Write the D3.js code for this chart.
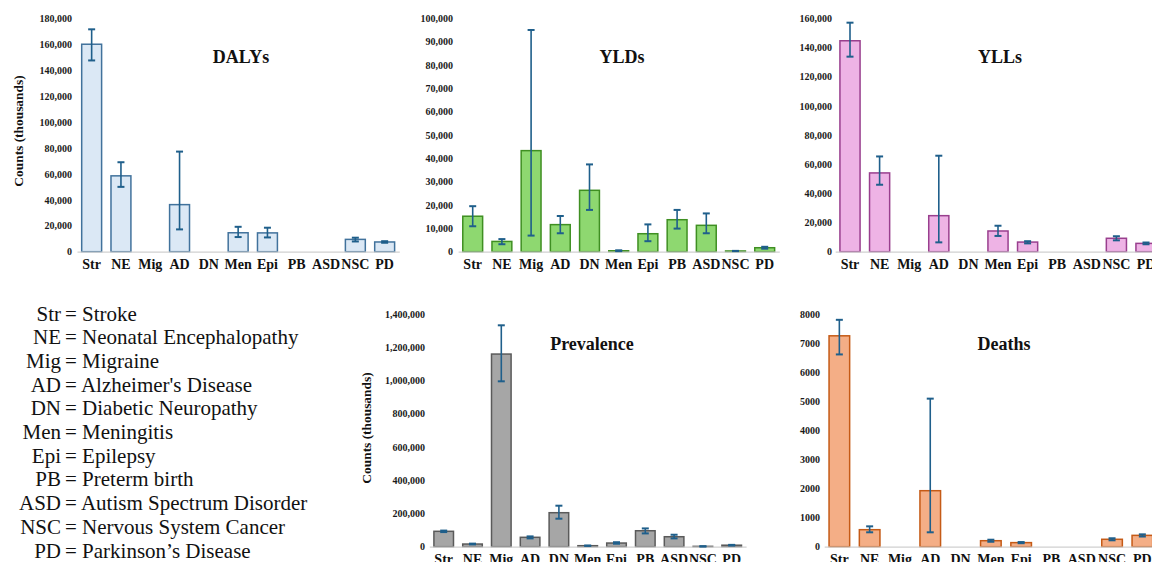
<!DOCTYPE html>
<html>
<head>
<meta charset="utf-8">
<script src="https://cdn.jsdelivr.net/npm/d3@7"></script>
<style>
  html, body { margin: 0; padding: 0; background: #ffffff; }
  svg text { font-family: "Liberation Serif", "Times New Roman", Tinos, Times, "DejaVu Serif", serif; }
</style>
</head>
<body>
<svg id="chart" width="1152" height="562"></svg>
<script>
// ---------------- DATA ----------------
const categories = ["Str", "NE", "Mig", "AD", "DN", "Men", "Epi", "PB", "ASD", "NSC", "PD"];

const dalys   = [160000, 58500, null, 36300, null, 14600, 14500, null, null, 9500, 7500];
const dalysLo = [147500, 50000, null, 17200, null, 11300, 11000, null, null, 7900, 6900];
const dalysHi = [171500, 69000, null, 77200, null, 19200, 18500, null, null, 10800, 8100];

const ylds   = [15200, 4400, 43300, 11600, 26300, 400, 7700, 13700, 11300, 300, 1700];
const yldsLo = [10900, 3200, 6900, 7900, 17900, 250, 4500, 9900, 7900, 250, 1300];
const yldsHi = [19500, 5400, 95000, 15300, 37400, 600, 11700, 17900, 16400, 350, 2100];

const ylls   = [144600, 54000, null, 24700, null, 14200, 6600, null, null, 9200, 5700];
const yllsLo = [133700, 45900, null, 6400, null, 10800, 5700, null, null, 7800, 5100];
const yllsHi = [157000, 65300, null, 65800, null, 17800, 7200, null, null, 10600, 6300];

const prevalence = [92600, 16000, 1159000, 56500, 204500, 6000, 22000, 96000, 60000, 2000, 9000];
const prevLo     = [88000, 14000, 995000, 50000, 168500, 5000, 18000, 80000, 50000, 1500, 7000];
const prevHi     = [97000, 18500, 1332000, 62000, 246700, 7000, 27000, 110000, 72000, 2500, 11000];

const deaths   = [7250, 585, null, 1925, null, 206, 140, null, null, 255, 390];
const deathsLo = [6610, 495, null, 495, null, 170, 120, null, null, 220, 350];
const deathsHi = [7800, 700, null, 5090, null, 240, 160, null, null, 290, 425];

const dalysTicks = [0, 20000, 40000, 60000, 80000, 100000, 120000, 140000, 160000, 180000];
const yldsTicks  = [0, 10000, 20000, 30000, 40000, 50000, 60000, 70000, 80000, 90000, 100000];
const yllsTicks  = [0, 20000, 40000, 60000, 80000, 100000, 120000, 140000, 160000];
const prevTicks  = [0, 200000, 400000, 600000, 800000, 1000000, 1200000, 1400000];
const deathsTicks = [0, 1000, 2000, 3000, 4000, 5000, 6000, 7000, 8000];

const legendAbbr  = ["Str", "NE", "Mig", "AD", "DN", "Men", "Epi", "PB", "ASD", "NSC", "PD"];
const legendNames = ["Stroke", "Neonatal Encephalopathy", "Migraine", "Alzheimer's Disease",
  "Diabetic Neuropathy", "Meningitis", "Epilepsy", "Preterm birth",
  "Autism Spectrum Disorder", "Nervous System Cancer", "Parkinson\u2019s Disease"];

const yTitle = "Counts (thousands)";

// ---------------- LAYOUT ----------------
const svg = d3.select("#chart");
const errColor = "#1f5f8b";
const commaFmt = d3.format(",");
const plainFmt = d3.format("d");
const serif = '"Liberation Serif", "Times New Roman", Tinos, Times, "DejaVu Serif", serif';

const panels = [
  { title: "DALYs", vals: dalys, lo: dalysLo, hi: dalysHi, ticks: dalysTicks, fmt: commaFmt,
    fill: "#dbe8f5", stroke: "#41729c", x0: 77.0, step: 29.3, yBase: 251.7, yTop: 18.3,
    labelRight: 72, titleX: 241, titleY: 63, yTitlePos: [18, 131] },
  { title: "YLDs", vals: ylds, lo: yldsLo, hi: yldsHi, ticks: yldsTicks, fmt: commaFmt,
    fill: "#8ed870", stroke: "#3f8f22", x0: 458.1, step: 29.2, yBase: 251.7, yTop: 18.3,
    labelRight: 453, titleX: 622, titleY: 63 },
  { title: "YLLs", vals: ylls, lo: yllsLo, hi: yllsHi, ticks: yllsTicks, fmt: commaFmt,
    fill: "#eeb3e5", stroke: "#993f8e", x0: 835.2, step: 29.6, yBase: 251.7, yTop: 18.3,
    labelRight: 832, titleX: 1000, titleY: 63 },
  { title: "Prevalence", vals: prevalence, lo: prevLo, hi: prevHi, ticks: prevTicks, fmt: commaFmt,
    fill: "#a6a6a6", stroke: "#5a5a5a", x0: 429.3, step: 28.8, yBase: 546.7, yTop: 314,
    labelRight: 425, titleX: 592, titleY: 350, yTitlePos: [366, 428] },
  { title: "Deaths", vals: deaths, lo: deathsLo, hi: deathsHi, ticks: deathsTicks, fmt: plainFmt,
    fill: "#f4ae86", stroke: "#c55a16", x0: 824.2, step: 30.3, yBase: 546.7, yTop: 314,
    labelRight: 820, titleX: 1004, titleY: 350 }
];

panels.forEach(p => {
  const g = svg.append("g");
  const n = categories.length;
  const x = d3.scaleBand().domain(categories).range([p.x0, p.x0 + n * p.step]).paddingInner(0.32).paddingOuter(0.16);
  const maxTick = p.ticks[p.ticks.length - 1];
  const y = d3.scaleLinear().domain([0, maxTick]).range([p.yBase, p.yTop]);

  // y axis labels
  const ya = g.append("g")
    .attr("transform", `translate(${p.labelRight},0)`)
    .call(d3.axisLeft(y).tickValues(p.ticks).tickFormat(p.fmt).tickSize(0).tickPadding(0));
  ya.attr("font-family", serif);
  ya.select(".domain").remove();
  ya.selectAll("text")
    .style("font-family", serif)
    .attr("font-size", 10)
    .attr("font-weight", "bold")
    .attr("fill", "#1a1a1a");

  // bars
  const idx = d3.range(n).filter(i => p.vals[i] !== null);
  g.selectAll("rect.bar").data(idx).join("rect")
    .attr("class", "bar")
    .attr("x", i => x(categories[i]))
    .attr("width", x.bandwidth())
    .attr("y", i => y(p.vals[i]))
    .attr("height", i => p.yBase - y(p.vals[i]))
    .attr("fill", p.fill)
    .attr("stroke", p.stroke)
    .attr("stroke-width", 1.5);

  // x axis
  const xa = g.append("g")
    .attr("transform", `translate(0,${p.yBase})`)
    .call(d3.axisBottom(x).tickSize(0).tickSizeOuter(0).tickPadding(7));
  xa.attr("font-family", serif);
  xa.select(".domain").attr("stroke", "#d0d0d0").attr("stroke-width", 1.2);
  xa.selectAll("text")
    .style("font-family", serif)
    .attr("font-size", 14)
    .attr("font-weight", "bold")
    .attr("fill", "#111");

  // error bars
  const cap = 3.5;
  const eg = g.append("g").attr("stroke", errColor).attr("stroke-width", 1.6).attr("fill", "none");
  idx.forEach(i => {
    const cx = x(categories[i]) + x.bandwidth() / 2;
    const yl = y(p.lo[i]), yh = y(p.hi[i]);
    eg.append("line").attr("x1", cx).attr("x2", cx).attr("y1", yl).attr("y2", yh);
    eg.append("line").attr("x1", cx - cap).attr("x2", cx + cap).attr("y1", yh).attr("y2", yh).attr("stroke-width", 2);
    eg.append("line").attr("x1", cx - cap).attr("x2", cx + cap).attr("y1", yl).attr("y2", yl).attr("stroke-width", 2);
  });

  // title
  g.append("text")
    .attr("x", p.titleX).attr("y", p.titleY)
    .attr("text-anchor", "middle")
    .style("font-family", serif)
    .attr("font-weight", "bold")
    .attr("font-size", 18)
    .attr("fill", "#111")
    .text(p.title);

  // y title
  if (p.yTitlePos) {
    g.append("text")
      .attr("transform", `translate(${p.yTitlePos[0]},${p.yTitlePos[1]}) rotate(-90)`)
      .attr("text-anchor", "middle")
      .attr("dy", "0.35em")
      .style("font-family", serif)
      .attr("font-weight", "bold")
      .attr("font-size", 13.4)
      .attr("fill", "#111")
      .text(yTitle);
  }
});

// ---------------- LEGEND ----------------
const lg = svg.append("g")
  .attr("font-size", 21)
  .attr("fill", "#111");
const legY = d3.scaleLinear().domain([0, legendAbbr.length - 1]).range([320.5, 557.5]);
legendAbbr.forEach((a, i) => {
  lg.append("text").style("font-family", serif).attr("x", 61).attr("y", legY(i)).attr("text-anchor", "end").text(a);
  lg.append("text").style("font-family", serif).attr("x", 65).attr("y", legY(i)).attr("text-anchor", "start")
    .text("= " + legendNames[i]);
});
</script>
</body>
</html>
